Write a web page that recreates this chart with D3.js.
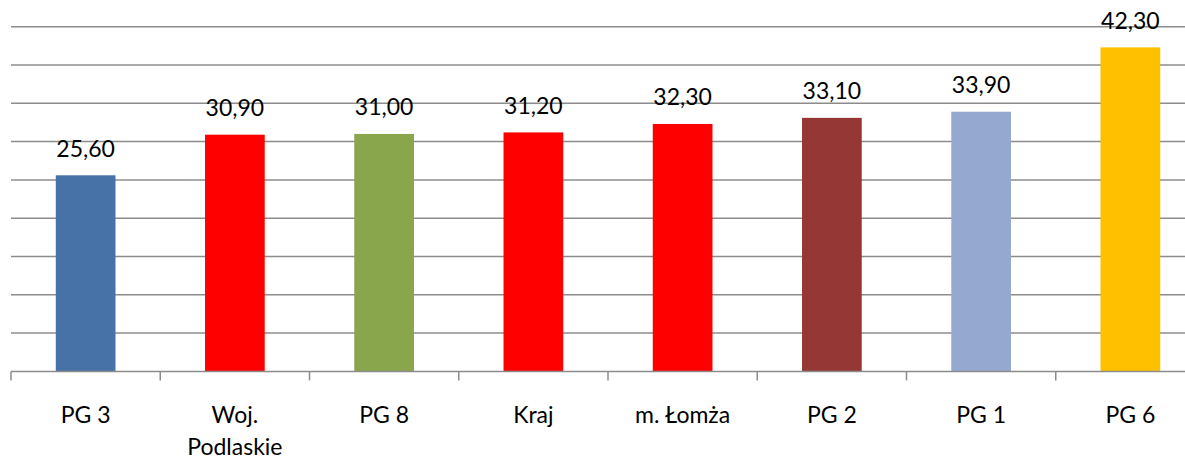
<!DOCTYPE html>
<html>
<head>
<meta charset="utf-8">
<script src="https://cdn.jsdelivr.net/npm/d3@7"></script>
<style>
  html, body { margin: 0; padding: 0; background: #fff; }
  svg { display: block; }
  text { font-family: Lato, "Open Sans", sans-serif; fill: #000; }
</style>
</head>
<body>
<svg id="chart" width="1185" height="459"></svg>
<script>
// Chart data
const categories = ["PG 3", "Woj. Podlaskie", "PG 8", "Kraj", "m. Łomża", "PG 2", "PG 1", "PG 6"];
const values = [25.6, 30.9, 31.0, 31.2, 32.3, 33.1, 33.9, 42.3];
const barColors = ["#4672A8", "#FF0000", "#8AA64D", "#FF0000", "#FF0000", "#953735", "#95A9D0", "#FFC000"];
const yTicks = [0, 5, 10, 15, 20, 25, 30, 35, 40, 45];

const svg = d3.select("#chart");
const plotLeft = 11, plotRight = 1205, plotTop = 26.7, plotBottom = 371.4;

const x = d3.scaleBand().domain(categories).range([plotLeft, plotRight]).paddingInner(0.6).paddingOuter(0.3);
const y = d3.scaleLinear().domain([0, 45]).range([plotBottom, plotTop]);

// Horizontal gridlines
svg.append("g")
  .selectAll("line")
  .data(yTicks.filter(t => t > 0))
  .join("line")
  .attr("x1", plotLeft).attr("x2", 1185)
  .attr("y1", d => y(d)).attr("y2", d => y(d))
  .attr("stroke", "#8c8c8c")
  .attr("stroke-width", 1.5);

// Bars
svg.append("g")
  .selectAll("rect")
  .data(values)
  .join("rect")
  .attr("x", (d, i) => x(categories[i]))
  .attr("width", x.bandwidth())
  .attr("y", d => y(d))
  .attr("height", d => y(0) - y(d))
  .attr("fill", (d, i) => barColors[i]);

// Category axis with ticks between the bands
const step = x.step();
const boundaries = d3.range(categories.length + 1).map(i => plotLeft + i * step);
const axisG = svg.append("g");
axisG.append("line")
  .attr("x1", plotLeft).attr("x2", 1185)
  .attr("y1", plotBottom).attr("y2", plotBottom)
  .attr("stroke", "#8c8c8c").attr("stroke-width", 1.5);
axisG.selectAll("line.tick")
  .data(boundaries)
  .join("line")
  .attr("class", "tick")
  .attr("x1", d => d).attr("x2", d => d)
  .attr("y1", plotBottom).attr("y2", plotBottom + 9)
  .attr("stroke", "#8c8c8c").attr("stroke-width", 1.5);

// Category labels (the two-word region name wraps onto two lines)
const fmtLabel = c => c === "Woj. Podlaskie" ? ["Woj.", "Podlaskie"] : [c];
svg.append("g")
  .selectAll("text")
  .data(categories)
  .join("text")
  .attr("text-anchor", "middle")
  .attr("font-size", 23)
  .each(function(c) {
    const cx = x(c) + x.bandwidth() / 2;
    d3.select(this).selectAll("tspan")
      .data(fmtLabel(c))
      .join("tspan")
      .attr("x", cx)
      .attr("y", (d, i) => 423 + i * 32)
      .text(d => d);
  });

// Value labels above the bars
const fmt = v => v.toFixed(2).replace(".", ",");
svg.append("g")
  .selectAll("text")
  .data(values)
  .join("text")
  .attr("text-anchor", "middle")
  .attr("font-size", 23)
  .attr("x", (d, i) => x(categories[i]) + x.bandwidth() / 2)
  .attr("y", d => y(d) - 18.5)
  .text(fmt);
</script>
</body>
</html>
